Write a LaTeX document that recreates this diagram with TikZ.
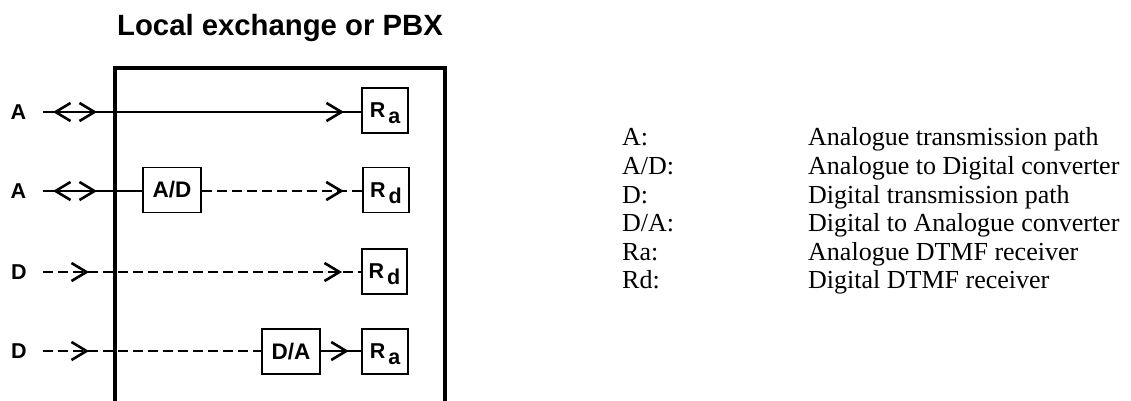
\documentclass[tikz,border=0pt]{standalone}
\usepackage{fontspec}
\setmainfont{Liberation Serif}
\setsansfont{Liberation Sans}
\usetikzlibrary{arrows.meta,decorations.markings}
\tikzset{
  barb/.tip={Straight Barb[length=15pt,width=18pt,line width=2.6pt]},
  frame/.style={line width=4pt, line join=miter},
  blk/.style={draw, line width=1.5pt, inner sep=0pt, minimum height=45pt,
              font=\sffamily\bfseries\fontsize{22.5}{22.5}\selectfont},
  rbox/.style={blk, minimum width=46pt},
  cbox/.style={blk, minimum width=58pt},
  lbl/.style={font=\sffamily\bfseries\fontsize{21.5}{21.5}\selectfont, inner sep=0pt},
  solidc/.style={line width=1.3pt},
  dashc/.style={line width=1.9pt, dash pattern=on 10pt off 5pt},
  key/.style={anchor=base west, inner sep=0pt, font=\fontsize{26}{26}\selectfont},
  fwd/.style={postaction={decorate, decoration={markings,
      mark=at position #1 with {\arrow{barb}}}}},
  bwd/.style={postaction={decorate, decoration={markings,
      mark=at position #1 with {\arrowreversed{barb}}}}},
}
\newcommand{\Rsub}[1]{{\fontsize{21.5}{21.5}\selectfont R\hspace{3pt}\raisebox{-6pt}[0pt][0pt]{#1}}}
\begin{document}
\begin{tikzpicture}[x=1pt,y=-1pt]
\useasboundingbox (0,0) rectangle (1131,401);

% title
\node[anchor=base, inner sep=0pt, font=\sffamily\bfseries\fontsize{29.3}{29.3}\selectfont] (title) at (280,36) {Local exchange or PBX};

% exchange frame (open at the bottom)
\draw[frame] (115.3,401) -- (115.3,68.3) -- (445.3,68.3) -- (445.3,401);

% left labels
\node[lbl] (lA1) at (18.5,112) {A};
\node[lbl] (lA2) at (18.5,191) {A};
\node[lbl] (lD3) at (19,272) {D};
\node[lbl] (lD4) at (19,351) {D};

% start points of the lines
\coordinate (s1) at (43,112);
\coordinate (s2) at (43,191);
\coordinate (s3) at (43,272);
\coordinate (s4) at (43,351);

% boxes
\node[rbox] (Ra1) at (385,110.5) {\Rsub{a}};
\node[cbox] (AD)  at (172,190) {A/D};
\node[rbox] (Rd2) at (386,190) {\Rsub{d}};
\node[rbox, minimum width=45pt] (Rd3) at (384.5,271.5) {\Rsub{d}};
\node[cbox] (DA)  at (291,351.5) {D/A};
\node[rbox] (Ra4) at (385,351.5) {\Rsub{a}};

% row 1
\draw[solidc, bwd=10pt, fwd=54pt, fwd=301pt] (s1) -- (Ra1.west |- s1);
% row 2
\draw[solidc, bwd=10pt, fwd=54pt] (s2) -- (AD.west |- s2);
\draw[dashc, fwd=142pt] (AD.east |- s2) -- (Rd2.west |- s2);
% row 3
\draw[dashc, fwd=46pt, fwd=299pt] (s3) -- (Rd3.west |- s3);
% row 4
\draw[dashc, fwd=46pt] (s4) -- (DA.west |- s4);
\draw[solidc, fwd=28pt] (DA.east |- s4) -- (Ra4.west |- s4);

% legend
\node[key] (k1) at (622,145) {A:};
\node[key] (k2) at (622,174) {A/D:};
\node[key] (k3) at (622,203) {D:};
\node[key] (k4) at (622,231) {D/A:};
\node[key] (k5) at (622,260) {Ra:};
\node[key] (k6) at (622,288) {Rd:};
\node[key] (v1) at (808,145) {Analogue transmission path};
\node[key] (v2) at (808,174) {Analogue to Digital converter};
\node[key] (v3) at (808,203) {Digital transmission path};
\node[key] (v4) at (808,231) {Digital to Analogue converter};
\node[key] (v5) at (808,260) {Analogue DTMF receiver};
\node[key] (v6) at (808,288) {Digital DTMF receiver};
\end{tikzpicture}
\end{document}
